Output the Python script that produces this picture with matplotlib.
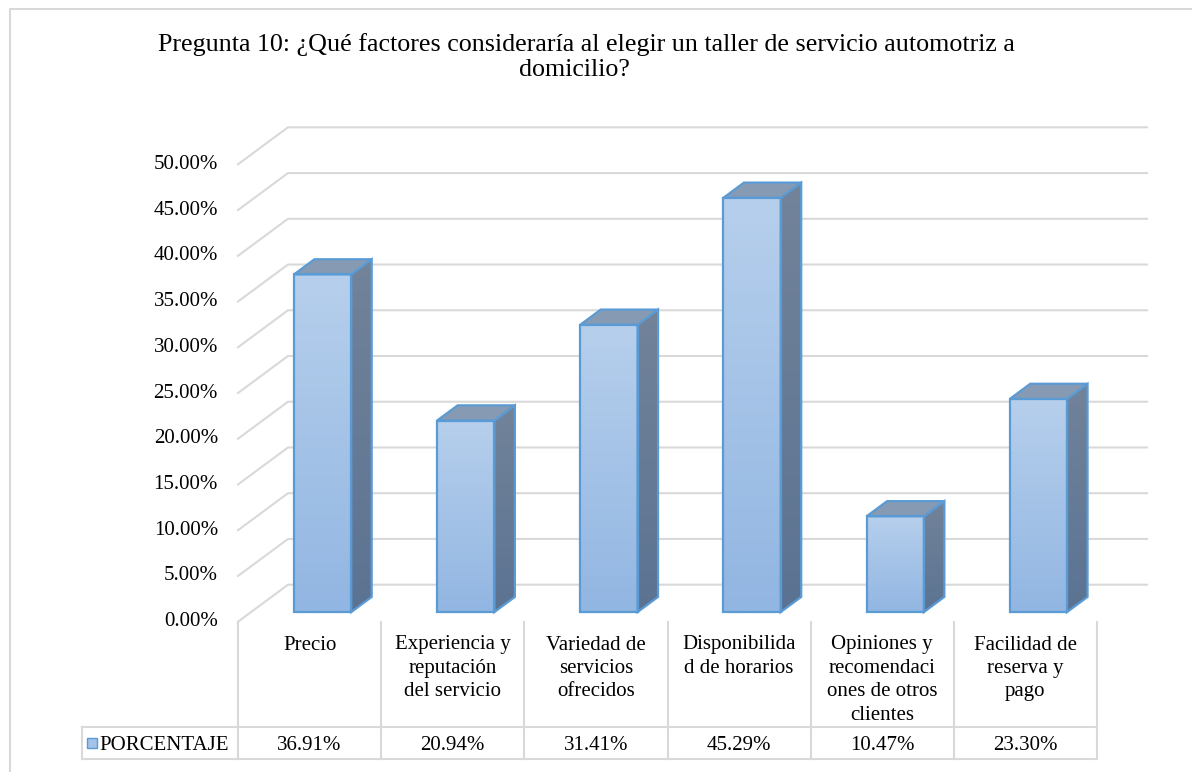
import numpy as np
import matplotlib
matplotlib.use("Agg")
import matplotlib.pyplot as plt
from matplotlib.patches import Polygon, Rectangle
from matplotlib.lines import Line2D
from matplotlib.transforms import ScaledTranslation, IdentityTransform, offset_copy, blended_transform_factory

plt.rcParams['font.family'] = ['Liberation Serif', 'DejaVu Serif']

# ---------------- data ----------------
title_line1 = "Pregunta 10: ¿Qué factores consideraría al elegir un taller de servicio automotriz a"
title_line2 = "domicilio?"
categories = [
    "Precio",
    "Experiencia y\nreputación\ndel servicio",
    "Variedad de\nservicios\nofrecidos",
    "Disponibilida\nd de horarios",
    "Opiniones y\nrecomendaci\nones de otros\nclientes",
    "Facilidad de\nreserva y\npago",
]
values = [36.91, 20.94, 31.41, 45.29, 10.47, 23.30]
series_name = "PORCENTAJE"
yticks = [0, 5, 10, 15, 20, 25, 30, 35, 40, 45, 50]

# ---------------- layout ----------------
W, H, DPI = 1192, 772, 100
fig = plt.figure(figsize=(W / DPI, H / DPI), dpi=DPI)
fig.patch.set_facecolor("white")

FS = 15.0      # body text size
TFS = 18.7     # title size

front_left, front_right = 238, 1097
front_bottom, front_top = 621.7, 164.3   # pixel rows (top-down)
DX, DY = 50, 37                          # depth of the 3-D box in pixels
ax = fig.add_axes([front_left / W, (H - front_bottom) / H,
                   (front_right - front_left) / W, (front_bottom - front_top) / H])
ax.set_xlim(-0.5, len(values) - 0.5)
ax.set_ylim(0, 50)
ax.axis("off")

GRID = "#D9D9D9"
EDGE = "#5B9BD5"

def P(x, y, f):
    """display point of data (x, y) pushed back by depth fraction f"""
    px, py = ax.transData.transform((x, y))
    return (px + f * DX, py + f * DY)

ident = IdentityTransform()

# wall grid lines + depth diagonals
for t in yticks:
    a = P(-0.5, t, 0)
    b = P(-0.5, t, 1)
    c = P(len(values) - 0.5, t, 1)
    ax.add_line(Line2D([a[0], b[0], c[0]], [a[1], b[1], c[1]], transform=ident,
                       color=GRID, lw=1.5, zorder=1, clip_on=False))

# y tick labels
lab_tr = offset_copy(ax.transData, fig=fig, x=-20, y=0, units="dots")
for t in yticks:
    ax.text(-0.5, t, f"{t:.2f}%", transform=lab_tr, ha="right", va="center",
            fontsize=FS, color="black")

# ---------------- bars ----------------
f1, f2 = 0.26, 0.67
bw = 0.4
front_tr = ax.transData + ScaledTranslation(f1 * DX / DPI, f1 * DY / DPI, fig.dpi_scale_trans)

def grad(c_top, c_bot, n=64):
    ct = np.array(matplotlib.colors.to_rgb(c_top))
    cb = np.array(matplotlib.colors.to_rgb(c_bot))
    s = np.linspace(0, 1, n)[:, None]
    return (ct * (1 - s) + cb * s)[:, None, :]

front_grad = grad("#B6CFEC", "#92B6E2")
side_grad = grad("#72839A", "#5B7392")

bars = ax.bar(range(len(values)), values, width=bw, transform=front_tr,
              facecolor="none", edgecolor=EDGE, linewidth=1.6, zorder=6, clip_on=False)
for i, (v, r) in enumerate(zip(values, bars)):
    # front gradient
    im = ax.imshow(front_grad, extent=[i - bw / 2, i + bw / 2, 0, v], aspect="auto",
                   transform=front_tr, zorder=4, interpolation="bilinear")
    clip = Rectangle((i - bw / 2, 0), bw, v, transform=front_tr, facecolor="none", edgecolor="none")
    im.set_clip_path(clip)
    # side face
    side = [P(i + bw / 2, 0, f1), P(i + bw / 2, v, f1), P(i + bw / 2, v, f2), P(i + bw / 2, 0, f2)]
    xs = [p[0] for p in side]
    ys = [p[1] for p in side]
    simg = ax.imshow(side_grad, extent=[min(xs), max(xs), min(ys), max(ys)], aspect="auto",
                     transform=ident, zorder=4, interpolation="bilinear")
    simg.set_clip_path(Polygon(side, closed=True, transform=ident))
    ax.add_patch(Polygon(side, closed=True, transform=ident, facecolor="none",
                         edgecolor=EDGE, lw=1.6, zorder=5, clip_on=False))
    # top face
    top = [P(i - bw / 2, v, f1), P(i + bw / 2, v, f1), P(i + bw / 2, v, f2), P(i - bw / 2, v, f2)]
    ax.add_patch(Polygon(top, closed=True, transform=ident, facecolor="#869AB3",
                         edgecolor=EDGE, lw=1.6, zorder=5, clip_on=False))

ax.set_xlim(-0.5, len(values) - 0.5)
ax.set_ylim(0, 50)

# ---------------- data table ----------------
ytr = blended_transform_factory(ax.transData, fig.transFigure)
def fy(p):
    return (H - p) / H

hdr_top, row_top, row_bot = 621.7, 727, 759
legend_left = 82
for k in range(len(values) + 1):
    x = k - 0.5
    ax.add_line(Line2D([x, x], [fy(hdr_top), fy(row_bot)], transform=ytr, color=GRID,
                       lw=1.5, clip_on=False))
lx = fig.transFigure.inverted().transform(ax.transData.transform((len(values) - 0.5, 0)))[0]
for p in (row_top, row_bot):
    fig.add_artist(Line2D([legend_left / W, lx], [fy(p), fy(p)], color=GRID, lw=1.5))
fig.add_artist(Line2D([legend_left / W, legend_left / W], [fy(row_top), fy(row_bot)], color=GRID, lw=1.5))

for i, (c, v) in enumerate(zip(categories, values)):
    ax.text(i, fy(635.5), c, transform=ytr, ha="center", va="top", fontsize=FS,
            linespacing=1.31, clip_on=False)
    ax.text(i, fy(746), f"{v:.2f}%", transform=ytr, ha="center", va="center",
            fontsize=FS, clip_on=False)

# legend key + series name
kx, ky, ks = 87, 738, 10
key = Rectangle((kx / W, fy(ky + ks)), ks / W, ks / H, transform=fig.transFigure,
                facecolor="#A4C3E8", edgecolor=EDGE, lw=1.0)
fig.add_artist(key)
fig.text(229 / W, fy(746), series_name, ha="right", va="center", fontsize=FS)

# ---------------- title ----------------
fig.text(586 / W, fy(45), title_line1, ha="center", va="center", fontsize=TFS)
fig.text(574 / W, fy(70), title_line2, ha="center", va="center", fontsize=TFS)

# chart border (left / top)
fig.add_artist(Line2D([9.5 / W, 9.5 / W, 1.0], [0.0, fy(8.5), fy(8.5)], color=GRID, lw=1.5))

fig.savefig("out.png", dpi=DPI, facecolor="white")
